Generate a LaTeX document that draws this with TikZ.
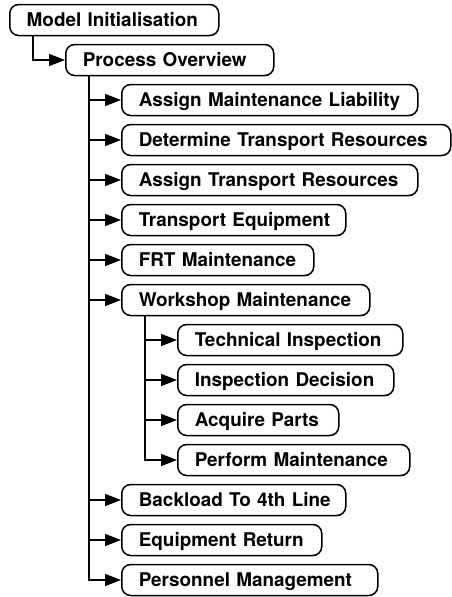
\documentclass[tikz,border=0pt]{standalone}
\usepackage{fontspec}
\setmainfont{TeX Gyre Heros}
\usetikzlibrary{arrows.meta}
\tikzset{
  box/.style={draw, rounded corners=9pt, line width=1.5pt, minimum height=31pt,
    inner xsep=17pt, inner ysep=0pt, anchor=west, align=left,
    text height=13.5pt, text depth=0pt,
    font=\fontsize{18.9}{22}\selectfont\bfseries},
  conn/.style={line width=1.5pt, -{Triangle[length=16pt,width=12pt]}}
}
\newcommand{\bx}[5]{\node[box, text width={#4-#1-34pt}] (#5) at (#1,#2) {\mbox{#3}};}
\begin{document}
\begin{tikzpicture}[x=1pt,y=-1pt]
\useasboundingbox (0,0) rectangle (452,597);
\bx{9}{20}{Model Initialisation}{218}{mi}
\bx{65}{60}{Process Overview}{273}{po}
\bx{121}{100}{Assign Maintenance Liability}{417}{aml}
\bx{121}{140}{Determine Transport Resources}{450}{dtr}
\bx{121}{180}{Assign Transport Resources}{417}{atr}
\bx{121}{220}{Transport Equipment}{345}{te}
\bx{121}{260}{FRT Maintenance}{313}{frt}
\bx{121}{300}{Workshop Maintenance}{369}{wm}
\bx{177}{340}{Technical Inspection}{402}{ti}
\bx{177}{380}{Inspection Decision}{393}{id}
\bx{177}{420}{Acquire Parts}{338}{ap}
\bx{177}{460}{Perform Maintenance}{409}{pm}
\bx{121}{500}{Backload To 4th Line}{345}{bl}
\bx{121}{540}{Equipment Return}{321}{er}
\bx{121}{580}{Personnel Management}{377}{pmg}
\draw[conn] ([xshift=24pt]mi.south west) |- (po.west);
\foreach \c in {aml,dtr,atr,te,frt,wm,bl,er,pmg}
  \draw[conn] ([xshift=24pt]po.south west) |- (\c.west);
\foreach \c in {ti,id,ap,pm}
  \draw[conn] ([xshift=24pt]wm.south west) |- (\c.west);
\end{tikzpicture}
\end{document}
